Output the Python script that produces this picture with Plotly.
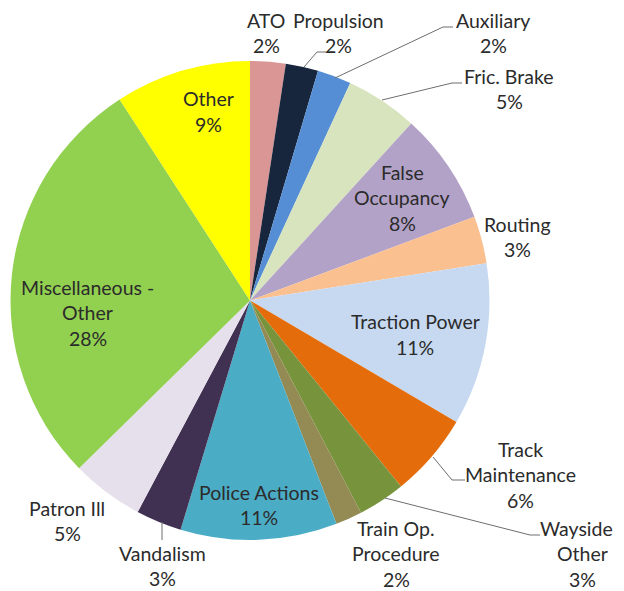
import plotly.graph_objects as go

# slice data, clockwise from 12 o'clock
categories = ["ATO", "Propulsion", "Auxiliary", "Fric. Brake", "False Occupancy", "Routing",
              "Traction Power", "Track Maintenance", "Wayside - Other", "Train Op. Procedure",
              "Police Actions", "Vandalism", "Patron Ill", "Miscellaneous - Other", "Other"]
values = [2.4, 2.2, 2.3, 4.9, 7.6, 3.2, 11.0, 5.7, 3.2, 1.8, 10.6, 3.1, 4.9, 28.3, 9.2]
colors = ["#D99694", "#17253D", "#558ED5", "#D7E4BD", "#B3A2C7", "#FAC090",
          "#C6D9F1", "#E46C0A", "#77933C", "#948A54", "#4BACC6", "#403152",
          "#E6E0EC", "#92D050", "#FFFF00"]
# how each label is broken over lines
label_lines = {
    "False Occupancy": ["False", "Occupancy"],
    "Track Maintenance": ["Track", "Maintenance"],
    "Wayside - Other": ["Wayside -", "Other"],
    "Train Op. Procedure": ["Train Op.", "Procedure"],
    "Miscellaneous - Other": ["Miscellaneous -", "Other"],
}

OFF = 8  # page body margin
W, H = 624 - OFF, 591 - OFF
total = sum(values)


def px(x, y):
    # screen pixel -> paper coords
    return (x - OFF) / W, 1 - (y - OFF) / H


x0, y1 = px(10, 61)
x1, y0 = px(490, 540)
fig = go.Figure(go.Pie(
    labels=categories, values=values, sort=False, direction="clockwise", rotation=0,
    marker=dict(colors=colors, line=dict(width=0)),
    textinfo="none", hoverinfo="label+percent",
    domain=dict(x=[x0, x1], y=[y0, y1]),
))

# centre of the first text line, screen pixels
label_pos = {
    "ATO": (266, 20), "Propulsion": (338, 20), "Auxiliary": (493, 20),
    "Fric. Brake": (509, 76), "False Occupancy": (402, 172), "Routing": (517, 224),
    "Traction Power": (415, 322), "Track Maintenance": (520, 449),
    "Wayside - Other": (582, 528), "Train Op. Procedure": (396, 528),
    "Police Actions": (259, 492), "Vandalism": (162, 553), "Patron Ill": (67, 508),
    "Miscellaneous - Other": (88, 287), "Other": (208, 99),
}

for cat, v in zip(categories, values):
    x, y = label_pos[cat]
    lines = label_lines.get(cat, [cat]) + [f"{round(100 * v / total)}%"]
    for i, line in enumerate(lines):
        ax, ay = px(x, y + 25.5 * i)
        fig.add_annotation(x=ax, y=ay, xref="paper", yref="paper", text=line,
                           showarrow=False, xanchor="center", yanchor="middle",
                           font=dict(family="Lato", size=19.5, color="#2B2B2B"))

# leader lines
leaders = [
    [(304, 67), (317, 52), (326, 52)],
    [(335, 78), (443, 27), (453, 27)],
    [(382, 100), (452, 83), (462, 83)],
    [(433, 457), (452, 480), (465, 480)],
    [(385, 498), (530, 535), (540, 535)],
    [(162, 522), (162, 540)],
]
for pts in leaders:
    path = "M " + " L ".join("{} {}".format(*px(a, b)) for a, b in pts)
    fig.add_shape(type="path", path=path, xref="paper", yref="paper",
                  line=dict(color="#6E6E6E", width=1))

fig.update_layout(width=W, height=H, margin=dict(l=0, r=0, t=0, b=0),
                  showlegend=False, paper_bgcolor="white", plot_bgcolor="white")
fig.write_html("out.html")
